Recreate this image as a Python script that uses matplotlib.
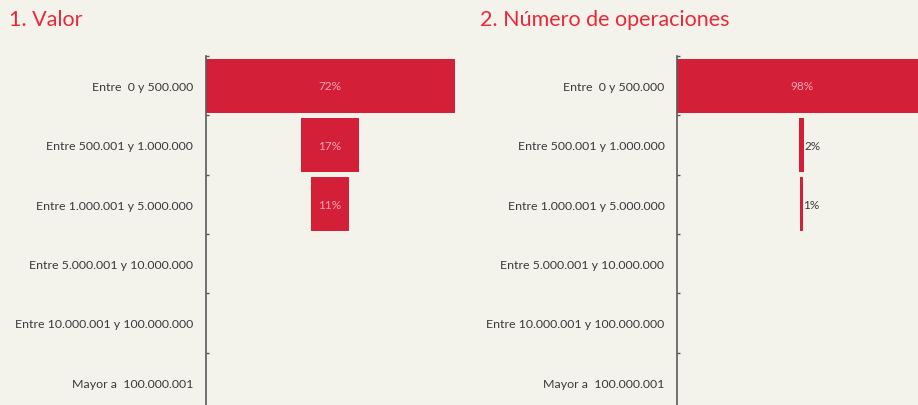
import numpy as np
import matplotlib
matplotlib.use("Agg")
import matplotlib.pyplot as plt

categories = ["Entre  0 y 500.000", "Entre 500.001 y 1.000.000", "Entre 1.000.001 y 5.000.000",
              "Entre 5.000.001 y 10.000.000", "Entre 10.000.001 y 100.000.000", "Mayor a  100.000.001"]
valor = [72, 17, 11, 0, 0, 0]
operaciones = [98, 2, 1, 0, 0, 0]
titles = ["1. Valor", "2. Número de operaciones"]

bg = "#f4f3eb"
red = "#d31f38"
plt.rcParams['font.family'] = ['Lato', 'DejaVu Sans']

fig = plt.figure(figsize=(9.18, 4.06), dpi=100, facecolor=bg)

# axes placed in pixel-ish fractions, bottom extends past the figure edge like the original crop
positions = [[205.5 / 918, -7 / 406, 249 / 918, 356 / 406],
             [677 / 918, -7 / 406, 249 / 918, 356 / 406]]
title_x = [9 / 918, 480 / 918]

for pos, vals, title, tx in zip(positions, [valor, operaciones], titles, title_x):
    ax = fig.add_axes(pos)
    ax.set_facecolor(bg)
    vals = np.array(vals)
    y = np.arange(len(categories))
    vmax = vals.max()
    bars = ax.barh(y, vals, left=-vals / 2, height=0.91, color=red)
    ax.set_xlim(-vmax / 2, vmax / 2)
    ax.set_ylim(len(categories) - 0.5, -0.5)

    for yi, v in zip(y, vals):
        if v == 0:
            continue
        if v / vmax > 0.1:
            ax.text(0, yi, f"{v}%", ha='center', va='center', fontsize=8.5, color="#f2a7b3")
        else:
            ax.text(v / 2, yi, f"{v}%", ha='left', va='center', fontsize=8.5, color="#3a3a3a")

    ax.set_yticks(y)
    ax.set_yticklabels(categories, fontsize=8.9, color="#3a3a3a")
    ax.set_yticks(np.arange(len(categories)) - 0.5, minor=True)
    ax.tick_params(axis='y', which='major', length=0, pad=9)
    ax.tick_params(axis='y', which='minor', length=2, direction='in', color="#555555", width=1)
    ax.set_xticks([])
    for s in ['top', 'right', 'bottom']:
        ax.spines[s].set_visible(False)
    ax.spines['left'].set_color("#5a5a5a")
    ax.spines['left'].set_linewidth(1.2)

    fig.text(tx, 1 - 20 / 406, title, fontsize=15.5, color="#e8293a", ha='left', va='center')

fig.savefig("out.png", dpi=100, facecolor=bg)
